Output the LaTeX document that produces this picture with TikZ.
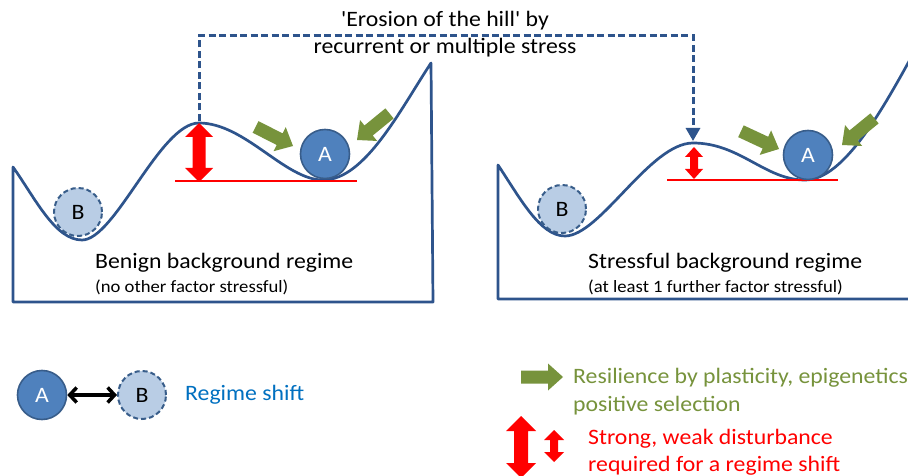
\documentclass[tikz,border=0pt]{standalone}
\usepackage{fontspec}
\setmainfont{Carlito}[FakeStretch=1.08,Ligatures=TeXOff]
\usetikzlibrary{arrows.meta}
\definecolor{lineblue}{RGB}{46,84,140}
\definecolor{afill}{RGB}{79,129,189}
\definecolor{aedge}{RGB}{56,93,138}
\definecolor{bfill}{RGB}{185,205,229}
\definecolor{greenA}{RGB}{119,147,60}
\definecolor{txtblue}{RGB}{0,112,192}
\definecolor{myred}{RGB}{255,0,0}
\newcommand\redDbl[6]{%
  \fill[myred] (#1,#2) -- (#1+#5,#2+#6) -- (#1+#4,#2+#6) -- (#1+#4,#3-#6) -- (#1+#5,#3-#6) -- (#1,#3)
    -- (#1-#5,#3-#6) -- (#1-#4,#3-#6) -- (#1-#4,#2+#6) -- (#1-#5,#2+#6) -- cycle;}
\newcommand\greenArr[3]{%
  \begin{scope}[shift={(#1,#2)},rotate=#3]
    \fill[greenA] (0,0) -- (-15,13.5) -- (-15,6.5) -- (-42,6.5) -- (-42,-6.5) -- (-15,-6.5) -- (-15,-13.5) -- cycle;
  \end{scope}}
\tikzset{
  land/.style={draw=lineblue, line width=2.7pt, line join=round},
  ballA/.style={circle, fill=afill, draw=aedge, line width=1.6pt, minimum size=49pt, inner sep=0pt, text=white, font=\fontsize{22}{22}\selectfont},
  ballB/.style={circle, fill=bfill, draw=aedge, line width=2pt, dash pattern=on 5pt off 3pt, minimum size=48pt, inner sep=0pt, text=black, font=\fontsize{22}{22}\selectfont},
  redline/.style={draw=myred, line width=1.2pt},
  dashconn/.style={draw=lineblue, line width=3pt, dash pattern=on 7pt off 3.5pt, -{Triangle[width=14pt,length=13pt]}},
  captxt/.style={anchor=base, inner sep=0pt, font=\fontsize{22}{22}\selectfont},
  bigtxt/.style={anchor=base west, inner sep=0pt, font=\fontsize{22}{22}\selectfont},
  smalltxt/.style={anchor=base west, inner sep=0pt, font=\fontsize{17.3}{17.3}\selectfont},
}
\begin{document}
\begin{tikzpicture}[x=1pt,y=-1pt]
\clip (0,0) rectangle (908,476);
\fill[white] (0,0) rectangle (908,476);
% left landscape
\draw[land] (13,302) -- (13,167) .. controls (35,198) and (55,240) .. (82,240)
  .. controls (115,240) and (160,123) .. (199,123)
  .. controls (245,123) and (285,180) .. (323,180)
  .. controls (365,180) and (400,110) .. (431,63) -- (433,302) -- cycle;
% right landscape
\draw[land] (920,299) -- (498,299) -- (498,165) .. controls (520,198) and (540,236) .. (565,236)
  .. controls (600,236) and (650,143) .. (693,143)
  .. controls (740,143) and (765,180) .. (805,180)
  .. controls (845,180) and (885,105) .. (918,45);
% red baselines
\draw[redline] (175,181) -- (357,181);
\draw[redline] (667,180) -- (838,180);
% red arrows
\redDbl{199}{123}{182}{6.5}{14}{14}
\redDbl{694}{147}{179}{4}{9}{10}
% balls
\node[ballB] (BL) at (78,212) {B};
\node[ballA] (AL) at (325,154) {A};
\node[ballB] (BR) at (562,209) {B};
\node[ballA] (AR) at (808,155) {A};
% green arrows
\greenArr{293}{146}{-27}
\greenArr{357}{140}{-140.7}
\greenArr{779}{149}{-25}
\greenArr{842}{145}{-140.7}
% dashed connector
\coordinate (hillL) at (199,121);
\coordinate (hillR) at (693,141);
\coordinate (topc) at (450,36);
\draw[dashconn] (hillL) -- (hillL |- topc) -- (hillR |- topc) -- (hillR);
\node[captxt] (cap1) at (445,27) {'Erosion of the hill' by};
\node[captxt] (cap2) at (445,54) {recurrent or multiple stress};
% landscape labels
\node[bigtxt] (benign) at (95,268) {Benign background regime};
\node[smalltxt] (benign2) at (95,292) {(no other factor stressful)};
\node[bigtxt] (stress) at (588,268) {Stressful background regime};
\node[smalltxt] (stress2) at (588,292) {(at least 1 further factor stressful)};
% legend
\node[ballA] (LA) at (42,395) {A};
\node[ballB] (LB) at (142,395) {B};
\draw[line width=3.5pt, {Straight Barb[length=7pt,width=15pt]}-{Straight Barb[length=7pt,width=15pt]}] (LA) -- (LB);
\node[bigtxt, text=txtblue] (shift) at (185,400) {Regime shift};
\greenArr{563}{377}{0}
\node[bigtxt, text=greenA] (res1) at (573,383) {Resilience by plasticity, epigenetics};
\node[bigtxt, text=greenA] (res2) at (573,411) {positive selection};
\redDbl{521}{416}{478}{7}{15}{15}
\redDbl{554}{430}{462}{4}{10}{10}
\node[bigtxt, text=myred] (dist1) at (588,444) {Strong, weak disturbance};
\node[bigtxt, text=myred] (dist2) at (588,471) {required for a regime shift};
\end{tikzpicture}
\end{document}
